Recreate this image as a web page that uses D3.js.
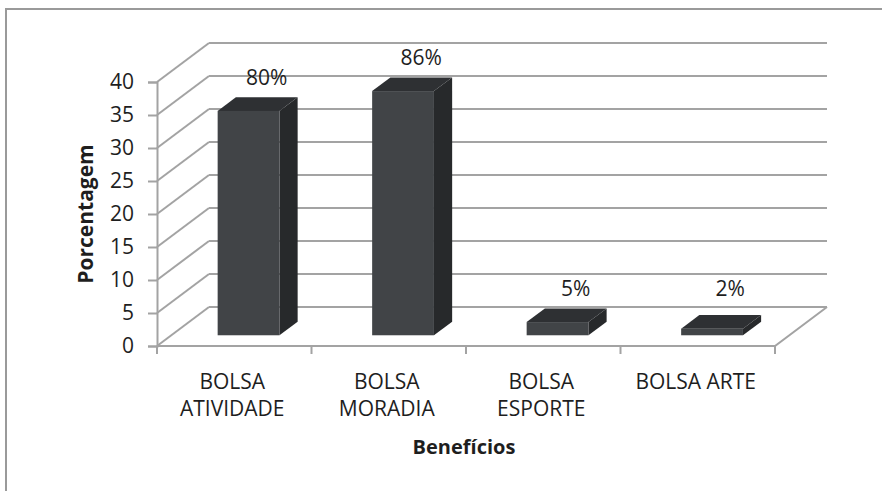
<!DOCTYPE html>
<html>
<head>
<meta charset="utf-8">
<script src="https://cdn.jsdelivr.net/npm/d3@7"></script>
<style>
    body { margin: 0; background: #fff; }
    text { font-family: "Open Sans", "Noto Sans", sans-serif; fill: #1e1e1e; }
</style>
</head>
<body>
<script>
//wrap everything in a self-executing anonymous function to move to local scope
(function(){

//chart data
var categories = ["BOLSA ATIVIDADE", "BOLSA MORADIA", "BOLSA ESPORTE", "BOLSA ARTE"];
var categoryLines = [["BOLSA", "ATIVIDADE"], ["BOLSA", "MORADIA"], ["BOLSA", "ESPORTE"], ["BOLSA ARTE"]];
var values = [34, 37, 2, 1];
var valueLabels = ["80%", "86%", "5%", "2%"];
var yTicks = [0, 5, 10, 15, 20, 25, 30, 35, 40];

var width = 882,
    height = 491,
    fontSize = 21;

//front plane of the plot and depth offset of the 3d box
var x0 = 157, x1 = 775,
    yBottom = 346, yTop = 82,
    depthX = 52, depthY = -39;

//bar depth (fraction of floor depth)
var d0 = 0.275, d1 = 0.625;

var svg = d3.select("body")
    .append("svg")
    .attr("width", width)
    .attr("height", height);

//outer frame (only left and top edges visible)
svg.append("path")
    .attr("d", "M6,491 L6,9 L882,9")
    .attr("fill", "none")
    .attr("stroke", "#9a9a9a")
    .attr("stroke-width", 2);

var x = d3.scaleBand()
    .domain(categories)
    .range([x0, x1])
    .paddingInner(0.6)
    .paddingOuter(0.3);

var y = d3.scaleLinear()
    .domain([0, 40])
    .range([yBottom, yTop]);

var gridColor = "#a3a3a3";

//back wall grid lines
svg.selectAll(".backgrid")
    .data(yTicks)
    .enter()
    .append("line")
    .attr("x1", x0 + depthX)
    .attr("x2", x1 + depthX)
    .attr("y1", function(d){ return y(d) + depthY; })
    .attr("y2", function(d){ return y(d) + depthY; })
    .attr("stroke", gridColor)
    .attr("stroke-width", 2);

//side wall grid lines
svg.selectAll(".sidegrid")
    .data(yTicks)
    .enter()
    .append("line")
    .attr("x1", x0)
    .attr("x2", x0 + depthX)
    .attr("y1", function(d){ return y(d); })
    .attr("y2", function(d){ return y(d) + depthY; })
    .attr("stroke", gridColor)
    .attr("stroke-width", 2);

//floor edges
svg.append("path")
    .attr("d", "M" + x0 + "," + y(0) + " L" + x1 + "," + y(0) + " L" + (x1 + depthX) + "," + (y(0) + depthY))
    .attr("fill", "none")
    .attr("stroke", gridColor)
    .attr("stroke-width", 2);

//y axis
var yAxis = svg.append("g")
    .attr("transform", "translate(" + x0 + ",0)")
    .call(d3.axisLeft(y).tickValues(yTicks).tickSize(9).tickPadding(14));
yAxis.select(".domain").attr("stroke", gridColor).attr("stroke-width", 2);
yAxis.selectAll(".tick line").attr("stroke", gridColor).attr("stroke-width", 2);
yAxis.selectAll(".tick text")
    .attr("font-size", fontSize)
    .style("font-family", "'Open Sans', sans-serif")
    .attr("fill", "#1e1e1e");

//x axis ticks at category boundaries
var xBounds = categories.map(function(c){ return x(c) - x.step() * x.paddingInner() / 2; });
xBounds.push(x1);
svg.selectAll(".xtick")
    .data(xBounds)
    .enter()
    .append("line")
    .attr("x1", function(d){ return d; })
    .attr("x2", function(d){ return d; })
    .attr("y1", y(0))
    .attr("y2", y(0) + 8)
    .attr("stroke", gridColor)
    .attr("stroke-width", 2);

//bars
function pt(px, py, d){
    return (px + depthX * d) + "," + (py + depthY * d);
}

var bars = svg.selectAll(".bar")
    .data(values)
    .enter()
    .append("g")
    .attr("class", "bar");

bars.each(function(v, i){
    var g = d3.select(this);
    var bx = x(categories[i]),
        bw = x.bandwidth(),
        yv = y(v),
        y0 = y(0);

    //side face
    g.append("polygon")
        .attr("points", [pt(bx + bw, yv, d0), pt(bx + bw, yv, d1), pt(bx + bw, y0, d1), pt(bx + bw, y0, d0)].join(" "))
        .attr("fill", "#27292b");
    //top face
    g.append("polygon")
        .attr("points", [pt(bx, yv, d0), pt(bx + bw, yv, d0), pt(bx + bw, yv, d1), pt(bx, yv, d1)].join(" "))
        .attr("fill", "#2e3033");
    //front face
    g.append("rect")
        .attr("x", bx + depthX * d0)
        .attr("y", yv + depthY * d0)
        .attr("width", bw)
        .attr("height", y0 - yv)
        .attr("fill", "#414447");

    //value label above the back top edge
    var topBack = Math.min(yv, y(2)) + depthY * d1;
    g.append("text")
        .attr("x", bx + bw / 2 + depthX * d1)
        .attr("y", topBack - 12)
        .attr("text-anchor", "middle")
        .attr("font-size", fontSize)
        .text(valueLabels[i]);
});

//category labels
var catLabels = svg.selectAll(".cat")
    .data(categories)
    .enter()
    .append("text")
    .attr("class", "cat")
    .attr("text-anchor", "middle")
    .attr("font-size", fontSize)
    .attr("y", 389);

catLabels.each(function(c, i){
    d3.select(this).selectAll("tspan")
        .data(categoryLines[i])
        .enter()
        .append("tspan")
        .attr("x", x(c) + x.bandwidth() / 2 - 2)
        .attr("dy", function(d, j){ return j === 0 ? 0 : 27; })
        .text(function(d){ return d; });
});

//axis titles
svg.append("text")
    .attr("transform", "translate(93,214) rotate(-90)")
    .attr("text-anchor", "middle")
    .attr("font-size", 21)
    .attr("font-weight", "bold")
    .text("Porcentagem");

svg.append("text")
    .attr("x", 464)
    .attr("y", 454)
    .attr("text-anchor", "middle")
    .attr("font-size", 20)
    .attr("font-weight", "bold")
    .text("Benefícios");

})();
</script>
</body>
</html>
